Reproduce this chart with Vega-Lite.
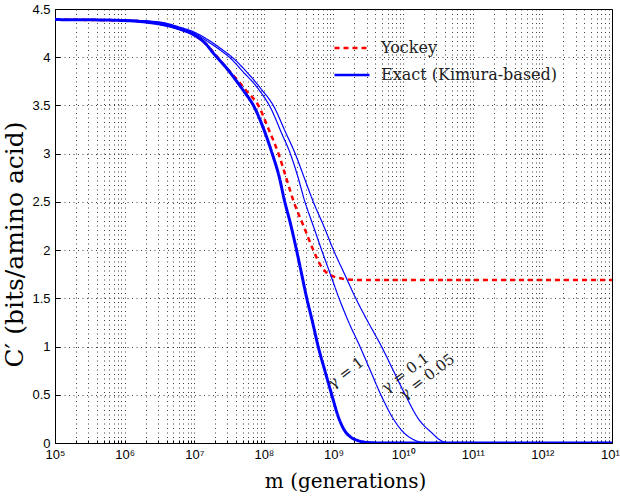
{
  "$schema": "https://vega.github.io/schema/vega-lite/v6.json",
  "width": 557,
  "height": 434,
  "autosize": "none",
  "padding": {"left": 55, "top": 9, "right": 8, "bottom": 54},
  "background": "white",
  "datasets": {
    "yockey": [
      {"m": 1e5, "C": 4.39, "series": "Yockey", "model": "Yockey"},
      {"m": 1e6, "C": 4.38, "series": "Yockey", "model": "Yockey"},
      {"m": 3.162e6, "C": 4.35, "series": "Yockey", "model": "Yockey"},
      {"m": 6.31e6, "C": 4.29, "series": "Yockey", "model": "Yockey"},
      {"m": 1e7, "C": 4.23, "series": "Yockey", "model": "Yockey"},
      {"m": 1.413e7, "C": 4.15, "series": "Yockey", "model": "Yockey"},
      {"m": 1.995e7, "C": 4.03, "series": "Yockey", "model": "Yockey"},
      {"m": 2.818e7, "C": 3.9, "series": "Yockey", "model": "Yockey"},
      {"m": 3.981e7, "C": 3.78, "series": "Yockey", "model": "Yockey"},
      {"m": 5.623e7, "C": 3.65, "series": "Yockey", "model": "Yockey"},
      {"m": 8.318e7, "C": 3.5, "series": "Yockey", "model": "Yockey"},
      {"m": 1.175e8, "C": 3.25, "series": "Yockey", "model": "Yockey"},
      {"m": 1.622e8, "C": 3.0, "series": "Yockey", "model": "Yockey"},
      {"m": 2.089e8, "C": 2.75, "series": "Yockey", "model": "Yockey"},
      {"m": 2.692e8, "C": 2.5, "series": "Yockey", "model": "Yockey"},
      {"m": 3.715e8, "C": 2.25, "series": "Yockey", "model": "Yockey"},
      {"m": 5.129e8, "C": 2.0, "series": "Yockey", "model": "Yockey"},
      {"m": 6.31e8, "C": 1.86, "series": "Yockey", "model": "Yockey"},
      {"m": 7.586e8, "C": 1.78, "series": "Yockey", "model": "Yockey"},
      {"m": 9.333e8, "C": 1.735, "series": "Yockey", "model": "Yockey"},
      {"m": 1.202e9, "C": 1.71, "series": "Yockey", "model": "Yockey"},
      {"m": 1.585e9, "C": 1.695, "series": "Yockey", "model": "Yockey"},
      {"m": 2.512e9, "C": 1.69, "series": "Yockey", "model": "Yockey"},
      {"m": 1e13, "C": 1.69, "series": "Yockey", "model": "Yockey"}
    ],
    "exact": [
      {"m": 1e5, "C": 4.39, "series": "γ = 0.05", "model": "Exact (Kimura-based)"},
      {"m": 1e6, "C": 4.385, "series": "γ = 0.05", "model": "Exact (Kimura-based)"},
      {"m": 3.162e6, "C": 4.365, "series": "γ = 0.05", "model": "Exact (Kimura-based)"},
      {"m": 6.31e6, "C": 4.31, "series": "γ = 0.05", "model": "Exact (Kimura-based)"},
      {"m": 1e7, "C": 4.26, "series": "γ = 0.05", "model": "Exact (Kimura-based)"},
      {"m": 1.585e7, "C": 4.18, "series": "γ = 0.05", "model": "Exact (Kimura-based)"},
      {"m": 2.512e7, "C": 4.08, "series": "γ = 0.05", "model": "Exact (Kimura-based)"},
      {"m": 3.631e7, "C": 3.99, "series": "γ = 0.05", "model": "Exact (Kimura-based)"},
      {"m": 5.623e7, "C": 3.85, "series": "γ = 0.05", "model": "Exact (Kimura-based)"},
      {"m": 8.913e7, "C": 3.68, "series": "γ = 0.05", "model": "Exact (Kimura-based)"},
      {"m": 1.413e8, "C": 3.48, "series": "γ = 0.05", "model": "Exact (Kimura-based)"},
      {"m": 1.995e8, "C": 3.24, "series": "γ = 0.05", "model": "Exact (Kimura-based)"},
      {"m": 2.818e8, "C": 3.0, "series": "γ = 0.05", "model": "Exact (Kimura-based)"},
      {"m": 3.802e8, "C": 2.75, "series": "γ = 0.05", "model": "Exact (Kimura-based)"},
      {"m": 5.129e8, "C": 2.5, "series": "γ = 0.05", "model": "Exact (Kimura-based)"},
      {"m": 7.244e8, "C": 2.25, "series": "γ = 0.05", "model": "Exact (Kimura-based)"},
      {"m": 1e9, "C": 2.0, "series": "γ = 0.05", "model": "Exact (Kimura-based)"},
      {"m": 1.445e9, "C": 1.75, "series": "γ = 0.05", "model": "Exact (Kimura-based)"},
      {"m": 2.089e9, "C": 1.5, "series": "γ = 0.05", "model": "Exact (Kimura-based)"},
      {"m": 3.162e9, "C": 1.25, "series": "γ = 0.05", "model": "Exact (Kimura-based)"},
      {"m": 4.898e9, "C": 1.0, "series": "γ = 0.05", "model": "Exact (Kimura-based)"},
      {"m": 7.244e9, "C": 0.75, "series": "γ = 0.05", "model": "Exact (Kimura-based)"},
      {"m": 1.072e10, "C": 0.5, "series": "γ = 0.05", "model": "Exact (Kimura-based)"},
      {"m": 1.66e10, "C": 0.25, "series": "γ = 0.05", "model": "Exact (Kimura-based)"},
      {"m": 2.63e10, "C": 0.1, "series": "γ = 0.05", "model": "Exact (Kimura-based)"},
      {"m": 3.311e10, "C": 0.035, "series": "γ = 0.05", "model": "Exact (Kimura-based)"},
      {"m": 4.169e10, "C": 0.005, "series": "γ = 0.05", "model": "Exact (Kimura-based)"},
      {"m": 5.623e10, "C": 0, "series": "γ = 0.05", "model": "Exact (Kimura-based)"},
      {"m": 1e13, "C": 0, "series": "γ = 0.05", "model": "Exact (Kimura-based)"},
      {"m": 1e5, "C": 4.39, "series": "γ = 0.1", "model": "Exact (Kimura-based)"},
      {"m": 1e6, "C": 4.385, "series": "γ = 0.1", "model": "Exact (Kimura-based)"},
      {"m": 3.162e6, "C": 4.36, "series": "γ = 0.1", "model": "Exact (Kimura-based)"},
      {"m": 6.31e6, "C": 4.3, "series": "γ = 0.1", "model": "Exact (Kimura-based)"},
      {"m": 1e7, "C": 4.25, "series": "γ = 0.1", "model": "Exact (Kimura-based)"},
      {"m": 1.585e7, "C": 4.16, "series": "γ = 0.1", "model": "Exact (Kimura-based)"},
      {"m": 2.512e7, "C": 4.06, "series": "γ = 0.1", "model": "Exact (Kimura-based)"},
      {"m": 3.311e7, "C": 3.99, "series": "γ = 0.1", "model": "Exact (Kimura-based)"},
      {"m": 5.012e7, "C": 3.85, "series": "γ = 0.1", "model": "Exact (Kimura-based)"},
      {"m": 7.943e7, "C": 3.69, "series": "γ = 0.1", "model": "Exact (Kimura-based)"},
      {"m": 1.259e8, "C": 3.47, "series": "γ = 0.1", "model": "Exact (Kimura-based)"},
      {"m": 1.778e8, "C": 3.22, "series": "γ = 0.1", "model": "Exact (Kimura-based)"},
      {"m": 2.399e8, "C": 3.0, "series": "γ = 0.1", "model": "Exact (Kimura-based)"},
      {"m": 3.02e8, "C": 2.78, "series": "γ = 0.1", "model": "Exact (Kimura-based)"},
      {"m": 3.89e8, "C": 2.5, "series": "γ = 0.1", "model": "Exact (Kimura-based)"},
      {"m": 5.129e8, "C": 2.25, "series": "γ = 0.1", "model": "Exact (Kimura-based)"},
      {"m": 6.761e8, "C": 2.0, "series": "γ = 0.1", "model": "Exact (Kimura-based)"},
      {"m": 9.12e8, "C": 1.74, "series": "γ = 0.1", "model": "Exact (Kimura-based)"},
      {"m": 1.202e9, "C": 1.5, "series": "γ = 0.1", "model": "Exact (Kimura-based)"},
      {"m": 1.66e9, "C": 1.25, "series": "γ = 0.1", "model": "Exact (Kimura-based)"},
      {"m": 2.399e9, "C": 1.0, "series": "γ = 0.1", "model": "Exact (Kimura-based)"},
      {"m": 3.388e9, "C": 0.75, "series": "γ = 0.1", "model": "Exact (Kimura-based)"},
      {"m": 4.786e9, "C": 0.5, "series": "γ = 0.1", "model": "Exact (Kimura-based)"},
      {"m": 7.244e9, "C": 0.25, "series": "γ = 0.1", "model": "Exact (Kimura-based)"},
      {"m": 1.047e10, "C": 0.1, "series": "γ = 0.1", "model": "Exact (Kimura-based)"},
      {"m": 1.413e10, "C": 0.035, "series": "γ = 0.1", "model": "Exact (Kimura-based)"},
      {"m": 1.905e10, "C": 0.005, "series": "γ = 0.1", "model": "Exact (Kimura-based)"},
      {"m": 2.512e10, "C": 0, "series": "γ = 0.1", "model": "Exact (Kimura-based)"},
      {"m": 1e13, "C": 0, "series": "γ = 0.1", "model": "Exact (Kimura-based)"},
      {"m": 1e5, "C": 4.39, "series": "γ = 1", "model": "Exact (Kimura-based)"},
      {"m": 3.162e5, "C": 4.388, "series": "γ = 1", "model": "Exact (Kimura-based)"},
      {"m": 1e6, "C": 4.38, "series": "γ = 1", "model": "Exact (Kimura-based)"},
      {"m": 1.995e6, "C": 4.365, "series": "γ = 1", "model": "Exact (Kimura-based)"},
      {"m": 3.981e6, "C": 4.33, "series": "γ = 1", "model": "Exact (Kimura-based)"},
      {"m": 6.31e6, "C": 4.29, "series": "γ = 1", "model": "Exact (Kimura-based)"},
      {"m": 1e7, "C": 4.23, "series": "γ = 1", "model": "Exact (Kimura-based)"},
      {"m": 1.413e7, "C": 4.15, "series": "γ = 1", "model": "Exact (Kimura-based)"},
      {"m": 1.995e7, "C": 4.02, "series": "γ = 1", "model": "Exact (Kimura-based)"},
      {"m": 2.818e7, "C": 3.9, "series": "γ = 1", "model": "Exact (Kimura-based)"},
      {"m": 3.981e7, "C": 3.76, "series": "γ = 1", "model": "Exact (Kimura-based)"},
      {"m": 5.248e7, "C": 3.64, "series": "γ = 1", "model": "Exact (Kimura-based)"},
      {"m": 7.079e7, "C": 3.5, "series": "γ = 1", "model": "Exact (Kimura-based)"},
      {"m": 1e8, "C": 3.25, "series": "γ = 1", "model": "Exact (Kimura-based)"},
      {"m": 1.318e8, "C": 3.0, "series": "γ = 1", "model": "Exact (Kimura-based)"},
      {"m": 1.66e8, "C": 2.76, "series": "γ = 1", "model": "Exact (Kimura-based)"},
      {"m": 1.995e8, "C": 2.5, "series": "γ = 1", "model": "Exact (Kimura-based)"},
      {"m": 2.399e8, "C": 2.28, "series": "γ = 1", "model": "Exact (Kimura-based)"},
      {"m": 2.884e8, "C": 2.03, "series": "γ = 1", "model": "Exact (Kimura-based)"},
      {"m": 3.467e8, "C": 1.76, "series": "γ = 1", "model": "Exact (Kimura-based)"},
      {"m": 4.074e8, "C": 1.52, "series": "γ = 1", "model": "Exact (Kimura-based)"},
      {"m": 5.012e8, "C": 1.25, "series": "γ = 1", "model": "Exact (Kimura-based)"},
      {"m": 6.026e8, "C": 1.0, "series": "γ = 1", "model": "Exact (Kimura-based)"},
      {"m": 7.586e8, "C": 0.74, "series": "γ = 1", "model": "Exact (Kimura-based)"},
      {"m": 9.441e8, "C": 0.5, "series": "γ = 1", "model": "Exact (Kimura-based)"},
      {"m": 1.175e9, "C": 0.27, "series": "γ = 1", "model": "Exact (Kimura-based)"},
      {"m": 1.413e9, "C": 0.14, "series": "γ = 1", "model": "Exact (Kimura-based)"},
      {"m": 1.778e9, "C": 0.06, "series": "γ = 1", "model": "Exact (Kimura-based)"},
      {"m": 2.239e9, "C": 0.025, "series": "γ = 1", "model": "Exact (Kimura-based)"},
      {"m": 3.162e9, "C": 0.005, "series": "γ = 1", "model": "Exact (Kimura-based)"},
      {"m": 5.012e9, "C": 0, "series": "γ = 1", "model": "Exact (Kimura-based)"},
      {"m": 1e13, "C": 0, "series": "γ = 1", "model": "Exact (Kimura-based)"}
    ],
    "labels": [
      {"m": 1.5e9, "C": 0.73, "label": "γ = 1"},
      {"m": 1.07e10, "C": 0.73, "label": "γ = 0.1"},
      {"m": 2.2e10, "C": 0.69, "label": "γ = 0.05"}
    ]
  },
  "encoding": {
    "x": {
      "field": "m",
      "type": "quantitative",
      "scale": {"type": "log", "domain": [1e5, 1e13]},
      "title": "m (generations)",
      "axis": {
        "values": [1e5,2e5,3e5,4e5,5e5,6e5,7e5,8e5,9e5,1e6,2e6,3e6,4e6,5e6,6e6,7e6,8e6,9e6,1e7,2e7,3e7,4e7,5e7,6e7,7e7,8e7,9e7,1e8,2e8,3e8,4e8,5e8,6e8,7e8,8e8,9e8,1e9,2e9,3e9,4e9,5e9,6e9,7e9,8e9,9e9,1e10,2e10,3e10,4e10,5e10,6e10,7e10,8e10,9e10,1e11,2e11,3e11,4e11,5e11,6e11,7e11,8e11,9e11,1e12,2e12,3e12,4e12,5e12,6e12,7e12,8e12,9e12,1e13],
        "labelExpr": "abs(log(datum.value)/LN10 - round(log(datum.value)/LN10)) < 0.001 ? ['10⁵','10⁶','10⁷','10⁸','10⁹','10¹⁰','10¹¹','10¹²','10¹³'][round(log(datum.value)/LN10)-5] : ''",
        "labelFlush": false,
        "labelOverlap": false,
        "labelPadding": 8,
        "titlePadding": 10,
        "titleX": 290,
        "ticks": true,
        "tickSize": -3,
        "tickColor": "#000"
      }
    },
    "y": {
      "field": "C",
      "type": "quantitative",
      "scale": {"domain": [0, 4.5], "nice": false},
      "title": "C′ (bits/amino acid)",
      "axis": {
        "values": [0, 0.5, 1, 1.5, 2, 2.5, 3, 3.5, 4, 4.5],
        "format": ".1~f",
        "labelPadding": 10,
        "titlePadding": 4,
        "titleY": 235,
        "titleFontSize": 25,
        "ticks": true,
        "tickSize": -5,
        "tickColor": "#000"
      }
    }
  },
  "layer": [
    {
      "data": {"name": "yockey"},
      "mark": {"type": "line", "clip": true, "interpolate": "monotone"},
      "encoding": {
        "color": {"field": "model", "type": "nominal", "scale": {"domain": ["Yockey", "Exact (Kimura-based)"], "range": ["#ff0000", "#0000ff"]}, "title": null},
        "strokeDash": {"field": "model", "type": "nominal", "scale": {"domain": ["Yockey", "Exact (Kimura-based)"], "range": [[5, 4], [1, 0]]}, "title": null},
        "strokeWidth": {"field": "series", "type": "nominal", "scale": {"type": "ordinal", "domain": ["Yockey", "γ = 1", "γ = 0.1", "γ = 0.05"], "range": [2.5, 3, 1.2, 1.2]}, "legend": null}
      }
    },
    {
      "data": {"name": "exact"},
      "mark": {"type": "line", "clip": true, "interpolate": "monotone"},
      "encoding": {
        "color": {"field": "model", "type": "nominal", "scale": {"domain": ["Yockey", "Exact (Kimura-based)"], "range": ["#ff0000", "#0000ff"]}, "title": null},
        "strokeDash": {"field": "model", "type": "nominal", "scale": {"domain": ["Yockey", "Exact (Kimura-based)"], "range": [[5, 4], [1, 0]]}, "title": null},
        "strokeWidth": {"field": "series", "type": "nominal", "scale": {"type": "ordinal", "domain": ["Yockey", "γ = 1", "γ = 0.1", "γ = 0.05"], "range": [2.5, 3, 1.2, 1.2]}, "legend": null}
      }
    },
    {
      "data": {"name": "labels"},
      "mark": {"type": "text", "angle": -37, "font": "DejaVu Serif", "fontSize": 15, "color": "#222", "align": "center", "baseline": "middle"},
      "encoding": {
        "text": {"field": "label", "type": "nominal"}
      }
    }
  ],
  "config": {
    "view": {"stroke": "black", "strokeWidth": 1},
    "axis": {
      "grid": true,
      "gridDash": [1, 3.5],
      "gridColor": "#000",
      "gridOpacity": 0.75,
      "gridWidth": 1,
      "domainColor": "#000",
      "domainWidth": 1,
      "labelFont": "Liberation Sans",
      "labelFontSize": 13,
      "labelColor": "#000",
      "titleFont": "DejaVu Serif",
      "titleFontSize": 20,
      "titleFontWeight": "normal",
      "titleColor": "#000"
    },
    "legend": {
      "orient": "none",
      "legendX": 278,
      "legendY": 20,
      "labelFont": "DejaVu Serif",
      "labelFontSize": 16,
      "labelColor": "#222",
      "labelLimit": 400,
      "symbolType": "stroke",
      "symbolSize": 1225,
      "symbolStrokeWidth": 2.5,
      "labelOffset": 10,
      "rowPadding": -1
    }
  }
}
